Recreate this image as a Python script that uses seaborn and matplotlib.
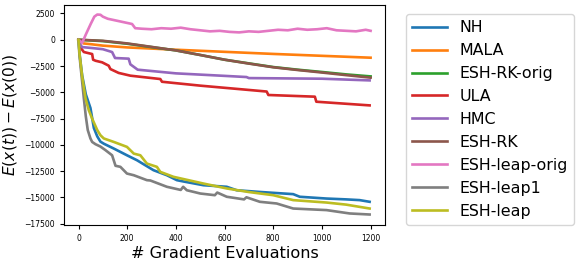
import numpy as np
import pandas as pd
import matplotlib
matplotlib.use("Agg")
import matplotlib.pyplot as plt
import seaborn as sns

labels = ["NH", "MALA", "ESH-RK-orig", "ULA", "HMC", "ESH-RK",
          "ESH-leap-orig", "ESH-leap1", "ESH-leap"]

nh_x = [0, 5, 15, 30, 49, 63, 77, 90, 104, 145, 199, 240, 308, 363, 404, 432,
        513, 609, 650, 750, 882, 909, 1019, 1100, 1155, 1196]
nh_y = [0, -1500, -3400, -5200, -6500, -8400, -9200, -9700, -9900, -10360, -11000,
        -11470, -12420, -12900, -13370, -13500, -13850, -14000, -14330, -14500,
        -14700, -14950, -15120, -15200, -15270, -15430]

mala_x = [0, 10, 20, 50, 100, 200, 400, 600, 800, 1000, 1200]
mala_y = [0, -150, -350, -420, -560, -730, -950, -1150, -1350, -1530, -1710]

eshrko_x = [0, 100, 200, 300, 400, 500, 600, 700, 800, 900, 1000, 1100, 1200]
eshrko_y = [0, -130, -380, -700, -1015, -1450, -1900, -2250, -2600, -2850,
            -3070, -3300, -3490]

ula_x = [0, 10, 22, 56, 60, 70, 97, 124, 131, 165, 213, 336, 343, 500, 773,
         780, 971, 977, 1196]
ula_y = [0, -800, -1170, -1360, -1900, -2000, -2150, -2470, -2790, -3160,
         -3420, -3740, -4000, -4370, -4930, -5260, -5420, -5900, -6250]

hmc_x = [0, 8, 15, 60, 100, 138, 150, 206, 213, 243, 400, 609, 690, 700,
         1000, 1196]
hmc_y = [0, -500, -700, -800, -900, -1170, -1740, -1800, -2340, -2850,
         -3200, -3450, -3550, -3650, -3710, -3870]

eshrk_x = [0, 100, 200, 300, 400, 500, 600, 700, 800, 900, 1000, 1100, 1200]
eshrk_y = [0, -100, -350, -680, -1015, -1450, -1900, -2270, -2620, -2880,
           -3120, -3370, -3610]

leapo_x = [0, 15, 30, 50, 65, 77, 90, 100, 120, 140, 160, 180, 200, 220, 233,
           260, 300, 340, 380, 420, 460, 500, 540, 580, 620, 660, 700, 740,
           780, 820, 860, 900, 940, 980, 1020, 1060, 1100, 1140, 1180, 1200]
leapo_y = [0, -300, 500, 1500, 2200, 2400, 2380, 2200, 2000, 1900, 1800, 1700,
           1600, 1500, 1100, 1050, 1000, 1100, 1050, 1150, 1000, 900, 800, 850,
           750, 700, 800, 750, 850, 950, 900, 1050, 950, 1000, 1100, 900, 850,
           800, 950, 850]

leap1_x = [0, 3, 8, 15, 22, 30, 38, 49, 56, 70, 90, 110, 138, 152, 172, 199,
           227, 281, 295, 363, 420, 430, 445, 472, 500, 560, 570, 609, 680, 690,
           745, 814, 882, 1019, 1114, 1196]
leap1_y = [0, -1200, -2440, -4000, -5600, -7300, -8600, -9400, -9730, -9950,
           -10170, -10500, -11000, -12000, -12100, -12740, -12900, -13370,
           -13400, -14000, -14300, -14000, -14330, -14480, -14640, -14800,
           -14550, -14950, -15200, -15000, -15430, -15590, -16070, -16220,
           -16540, -16640]

leap_x = [0, 5, 15, 29, 42, 56, 77, 90, 104, 145, 199, 227, 254, 281, 322, 336,
          390, 513, 609, 700, 800, 882, 1019, 1100, 1196]
leap_y = [0, -1500, -3500, -5600, -6700, -7510, -8600, -9090, -9400, -9730,
          -10200, -10840, -11000, -11790, -12100, -12580, -13050, -13690,
          -14160, -14500, -14800, -15270, -15500, -15700, -16070]

series = [(nh_x, nh_y), (mala_x, mala_y), (eshrko_x, eshrko_y), (ula_x, ula_y),
          (hmc_x, hmc_y), (eshrk_x, eshrk_y), (leapo_x, leapo_y),
          (leap1_x, leap1_y), (leap_x, leap_y)]

frames = []
for lab, (xs, ys) in zip(labels, series):
    frames.append(pd.DataFrame({"x": xs, "y": ys, "method": lab}))
df = pd.concat(frames, ignore_index=True)

fig = plt.figure(figsize=(5.81, 2.68), dpi=100)
ax = fig.add_axes([0.110, 0.160, 0.553, 0.821])

sns.lineplot(data=df, x="x", y="y", hue="method", hue_order=labels,
             palette=sns.color_palette("tab10", 9), estimator=None,
             linewidth=1.9, ax=ax)

ax.set_xticks([0, 200, 400, 600, 800, 1000, 1200])
ax.set_yticks(np.arange(-17500, 2501, 2500))
ax.set_ylim(-17650, 3300)
ax.tick_params(labelsize=5.5, length=3)
ax.set_xlabel("# Gradient Evaluations", fontsize=11.6, labelpad=2)
ax.set_ylabel(r"$E(x(t)) - E(x(0))$", fontsize=11.2)
ax.legend(loc="upper left", bbox_to_anchor=(1.064, 0.96), fontsize=11.4,
          handlelength=2.2, borderaxespad=0)

fig.savefig("out.png", dpi=100)
